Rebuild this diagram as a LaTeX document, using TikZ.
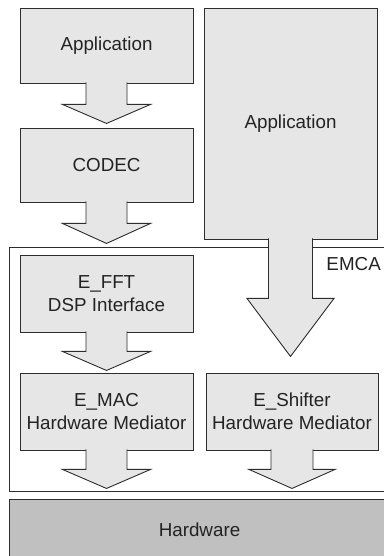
\documentclass[tikz,border=0pt]{standalone}
\usepackage{fontspec}
\setmainfont{Liberation Sans}
\usetikzlibrary{calc,positioning}
\definecolor{boxfill}{RGB}{230,230,230}
\definecolor{hwfill}{RGB}{192,192,192}
\definecolor{edge}{RGB}{45,45,45}
\definecolor{ink}{RGB}{35,35,35}

\tikzset{
  layer/.style={draw=edge, fill=boxfill, line width=0.9pt, inner sep=0pt, align=center, text=ink,
    minimum width=173pt, minimum height=75pt, font=\fontsize{18.8}{23}\selectfont},
  blockarrow/.style={draw=edge, fill=boxfill, line width=0.9pt, line join=miter},
}

% block arrow under a node: #1 node, #2 shaft length, #3 head length, #4 half shaft, #5 half head
\newcommand{\blockarrow}[5]{%
  \draw[blockarrow] ($(#1.south)+(-#4,1)$) -- ++(0,-#2-1) -- ++(#4-#5,0)
    -- ($(#1.south)+(0,-#2-#3)$) -- ($(#1.south)+(#5,-#2)$) -- ++(#4-#5,0)
    -- ($(#1.south)+(#4,1)$);}

\begin{document}
\begin{tikzpicture}[x=1pt,y=1pt]
\useasboundingbox (0,0) rectangle (383,556);

% EMCA frame and hardware layer
\draw[draw=edge, line width=0.9pt] (9,309) rectangle (392,65);
\node[anchor=base east, inner sep=0pt, text=ink, font=\fontsize{18.8}{23}\selectfont] (emca) at (381,285) {EMCA};
\node[layer, fill=hwfill, minimum width=381pt, minimum height=62pt] (hw) at (199.5,26) {Hardware};

% left stack
\node[layer] (app) at (106.5,510.5) {Application};
\node[layer, minimum height=74pt] (codec) at (106.5,391) {CODEC};
\node[layer, minimum height=77pt] (efft) at (106.5,262.5) {E\_FFT\\DSP Interface};
\node[layer, minimum height=77pt] (emac) at (106.5,144.5) {E\_MAC\\Hardware Mediator};

% right stack
\node[layer, minimum height=231pt] (bigapp) at (290.5,432.5) {Application};
\node[layer, minimum width=172pt, minimum height=77pt] (eshift) at (292,144.5) {E\_Shifter\\Hardware Mediator};

% arrows
\blockarrow{app}{21}{19}{20.5}{44}
\blockarrow{codec}{21}{20}{20.5}{44}
\blockarrow{efft}{19}{19}{20.5}{44}
\blockarrow{emac}{19}{19}{20.5}{44}
\blockarrow{eshift}{19}{19}{21}{43}
\blockarrow{bigapp}{59}{58}{22}{43.5}
\end{tikzpicture}
\end{document}
